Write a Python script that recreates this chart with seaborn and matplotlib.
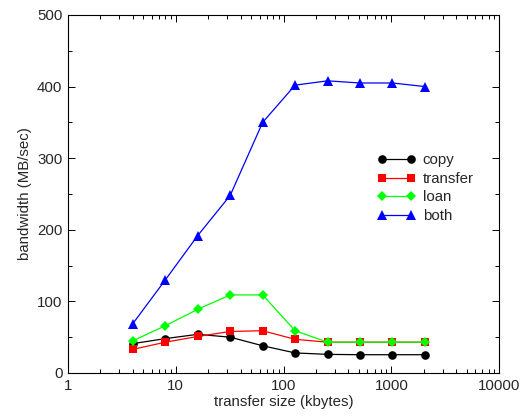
import numpy as np
import pandas as pd
import matplotlib
matplotlib.use("Agg")
import matplotlib.pyplot as plt
import matplotlib.ticker as mticker
import seaborn as sns

# transfer sizes (kbytes) and measured bandwidth (MB/sec)
sizes = [4, 8, 16, 32, 64, 128, 256, 512, 1024, 2048]
copy = [41, 48, 54, 50, 38, 28, 26, 25.5, 25.5, 25.5]
transfer = [33, 43, 51, 58, 59, 47, 43, 43, 43, 43]
loan = [45, 66, 89, 109, 109, 59, 43, 43, 43, 43]
both = [69, 130, 192, 248, 350, 402, 408, 405, 405, 400]

series = ["copy", "transfer", "loan", "both"]
colors = ["#000000", "#ff0000", "#00ff00", "#0000ff"]
marks = ["o", "s", "D", "^"]
msizes = {"copy": 6.2, "transfer": 5.6, "loan": 4.6, "both": 7.0}

df = pd.DataFrame({"size": sizes * 4,
                   "bw": copy + transfer + loan + both,
                   "method": [s for s in series for _ in sizes]})

sns.set_style("ticks")
plt.rcParams["font.family"] = ["Liberation Sans", "DejaVu Sans"]
fs = 10.8

fig = plt.figure(figsize=(5.21, 4.18), dpi=100)
ax = fig.add_axes([0.1305, 0.1077, 0.8275, 0.8565])

sns.lineplot(data=df, x="size", y="bw", hue="method", style="method",
             hue_order=series, style_order=series,
             palette=colors, markers=marks, dashes=False,
             markersize=6, markeredgewidth=0, linewidth=0.9,
             legend=False, ax=ax)

for line, name in zip(ax.lines, series):
    line.set_markersize(msizes[name])
    line.set_label(name)

ax.set_xscale("log")
ax.set_xlim(1, 10000)
ax.set_ylim(0, 500)
ax.xaxis.set_major_locator(mticker.LogLocator(base=10, numticks=10))
ax.xaxis.set_minor_locator(mticker.LogLocator(base=10, subs=np.arange(2, 10), numticks=10))
ax.xaxis.set_major_formatter(mticker.FuncFormatter(lambda v, p: "%d" % v))
ax.xaxis.set_minor_formatter(mticker.NullFormatter())
ax.yaxis.set_major_locator(mticker.MultipleLocator(100))
ax.yaxis.set_minor_locator(mticker.MultipleLocator(50))

ax.tick_params(which="both", direction="in", top=True, right=True,
               color="black", labelsize=fs, pad=4)
ax.tick_params(which="major", length=5, width=0.7)
ax.tick_params(which="minor", length=3, width=0.7)
for sp in ax.spines.values():
    sp.set_linewidth(0.8)
    sp.set_color("black")

ax.set_xlabel("transfer size (kbytes)", fontsize=fs, labelpad=2)
ax.set_ylabel("bandwidth (MB/sec)", fontsize=fs, labelpad=4)

leg = ax.legend(loc="upper right", bbox_to_anchor=(0.955, 0.63), frameon=False,
                numpoints=2, handlelength=2.5, handletextpad=0.5,
                labelspacing=0.3, fontsize=fs, borderaxespad=0)

fig.savefig("out.png", dpi=100)
